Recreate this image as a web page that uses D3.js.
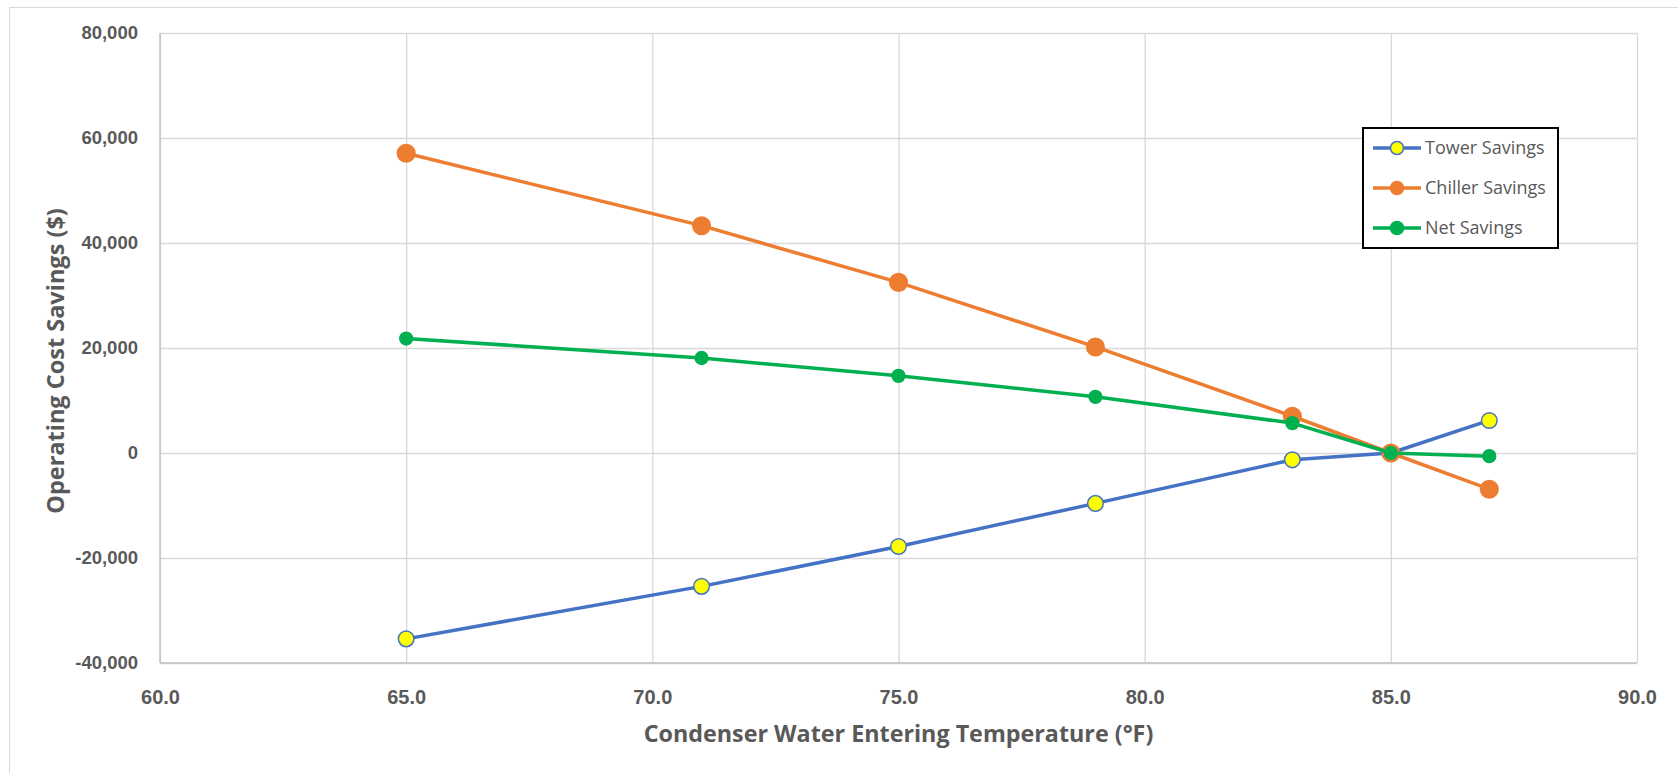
<!DOCTYPE html>
<html>
<head>
<meta charset="utf-8">
<script src="https://cdn.jsdelivr.net/npm/d3@7"></script>
<style>
    body { margin: 0; background: #ffffff; }
    svg { display: block; font-family: "Open Sans", sans-serif; }
    .y-tick-label { fill: #595959; font-weight: bold; font-size: 18.5px; }
    .x-tick-label { fill: #595959; font-weight: bold; font-size: 20px; }
    .x-title { fill: #595959; font-weight: bold; font-size: 23.3px; }
    .y-title { fill: #595959; font-weight: bold; font-size: 23.5px; }
    .legend-label { fill: #595959; font-size: 18px; }
</style>
</head>
<body>
<svg id="chart" width="1678" height="773"></svg>
<script>

// Data.
const temps = [65, 71, 75, 79, 83, 85, 87];
const towerSavings = [-35400, -25400, -17800, -9600, -1300, 0, 6200];
const chillerSavings = [57100, 43300, 32500, 20200, 7000, 0, -6900];
const netSavings = [21800, 18100, 14700, 10700, 5700, 0, -600];

const xTicks = [60, 65, 70, 75, 80, 85, 90];
const yTicks = [-40000, -20000, 0, 20000, 40000, 60000, 80000];

const seriesNames = ["Tower Savings", "Chiller Savings", "Net Savings"];

const series = [
    { name: seriesNames[0], values: towerSavings, line: "#4472C4", fill: "#FFFF00", stroke: "#4472C4", r: 7.8 },
    { name: seriesNames[1], values: chillerSavings, line: "#ED7D31", fill: "#ED7D31", stroke: "#ED7D31", r: 8.8 },
    { name: seriesNames[2], values: netSavings, line: "#00B050", fill: "#00B050", stroke: "#00B050", r: 6.4 }
];

const svg = d3.select("#chart");
const margin = { top: 33, right: 41, bottom: 110, left: 160 };
const width = 1678 - margin.left - margin.right;
const height = 773 - margin.top - margin.bottom;

// Outer chart frame (cut off at right and bottom in the reference).
svg.append("rect")
    .attr("x", 9.5).attr("y", 7.5)
    .attr("width", 1700).attr("height", 800)
    .attr("fill", "none")
    .attr("stroke", "#d9d9d9");

const chart = svg.append("g")
    .attr("transform", `translate(${margin.left},${margin.top})`);

const xScale = d3.scaleLinear().domain([60, 90]).range([0, width]);
const yScale = d3.scaleLinear().domain([-40000, 80000]).range([height, 0]);

// Gridlines.
chart.append("g")
    .call(d3.axisLeft(yScale).tickValues(yTicks).tickSize(-width).tickFormat(""))
    .call(g => g.select(".domain").remove())
    .call(g => g.selectAll("line").attr("stroke", "#d9d9d9").attr("stroke-width", 1.3));

chart.append("g")
    .attr("transform", `translate(0,${height})`)
    .call(d3.axisBottom(xScale).tickValues(xTicks).tickSize(-height).tickFormat(""))
    .call(g => g.select(".domain").remove())
    .call(g => g.selectAll("line").attr("stroke", "#d9d9d9").attr("stroke-width", 1.3));

// Axis lines (bottom and left, slightly darker).
chart.append("line")
    .attr("x1", 0).attr("x2", width)
    .attr("y1", height).attr("y2", height)
    .attr("stroke", "#bfbfbf").attr("stroke-width", 1.3);
chart.append("line")
    .attr("x1", 0).attr("x2", 0)
    .attr("y1", 0).attr("y2", height)
    .attr("stroke", "#bfbfbf").attr("stroke-width", 1.3);

// Tick labels (Excel style: plain hyphen for negatives).
const commaFormat = d3.format(",");
const yAxis = chart.append("g")
    .call(d3.axisLeft(yScale).tickValues(yTicks).tickSize(0).tickPadding(22)
        .tickFormat(d => commaFormat(d).replace("\u2212", "-")));
yAxis.select(".domain").remove();
yAxis.selectAll("text").attr("class", "y-tick-label").attr("font-family", null).attr("font-size", null).attr("fill", null);

const xAxis = chart.append("g")
    .attr("transform", `translate(0,${height})`)
    .call(d3.axisBottom(xScale).tickValues(xTicks).tickSize(0).tickPadding(27).tickFormat(d3.format(".1f")));
xAxis.select(".domain").remove();
xAxis.selectAll("text").attr("class", "x-tick-label").attr("font-family", null).attr("font-size", null).attr("fill", null);

// Axis titles.
svg.append("text")
    .attr("class", "x-title")
    .attr("x", margin.left + width / 2)
    .attr("y", 742)
    .attr("text-anchor", "middle")
    .text("Condenser Water Entering Temperature (°F)");

svg.append("text")
    .attr("class", "y-title")
    .attr("transform", "translate(64,361) rotate(-90)")
    .attr("text-anchor", "middle")
    .text("Operating Cost Savings ($)");

// Series lines and markers.
const line = d3.line()
    .x((d, i) => xScale(temps[i]))
    .y(d => yScale(d));

series.forEach(s => {
    chart.append("path")
        .datum(s.values)
        .attr("fill", "none")
        .attr("stroke", s.line)
        .attr("stroke-width", 3.5)
        .attr("stroke-linejoin", "round")
        .attr("d", line);

    chart.selectAll(null)
        .data(s.values)
        .join("circle")
        .attr("cx", (d, i) => xScale(temps[i]))
        .attr("cy", d => yScale(d))
        .attr("r", s.r)
        .attr("fill", s.fill)
        .attr("stroke", s.stroke)
        .attr("stroke-width", 1.5);
});

// Legend.
const legend = svg.append("g").attr("transform", "translate(1363,128)");
legend.append("rect")
    .attr("width", 195).attr("height", 120)
    .attr("fill", "#ffffff")
    .attr("stroke", "#000000")
    .attr("stroke-width", 2);

series.forEach((s, i) => {
    const row = legend.append("g").attr("transform", `translate(0,${20 + i * 40})`);
    row.append("line")
        .attr("x1", 10).attr("x2", 58)
        .attr("stroke", s.line).attr("stroke-width", 3.5);
    row.append("circle")
        .attr("cx", 34).attr("r", 6.5)
        .attr("fill", s.fill)
        .attr("stroke", s.stroke)
        .attr("stroke-width", 1.5);
    row.append("text")
        .attr("class", "legend-label")
        .attr("x", 62)
        .attr("dy", "0.35em")
        .text(s.name);
});

</script>
</body>
</html>
